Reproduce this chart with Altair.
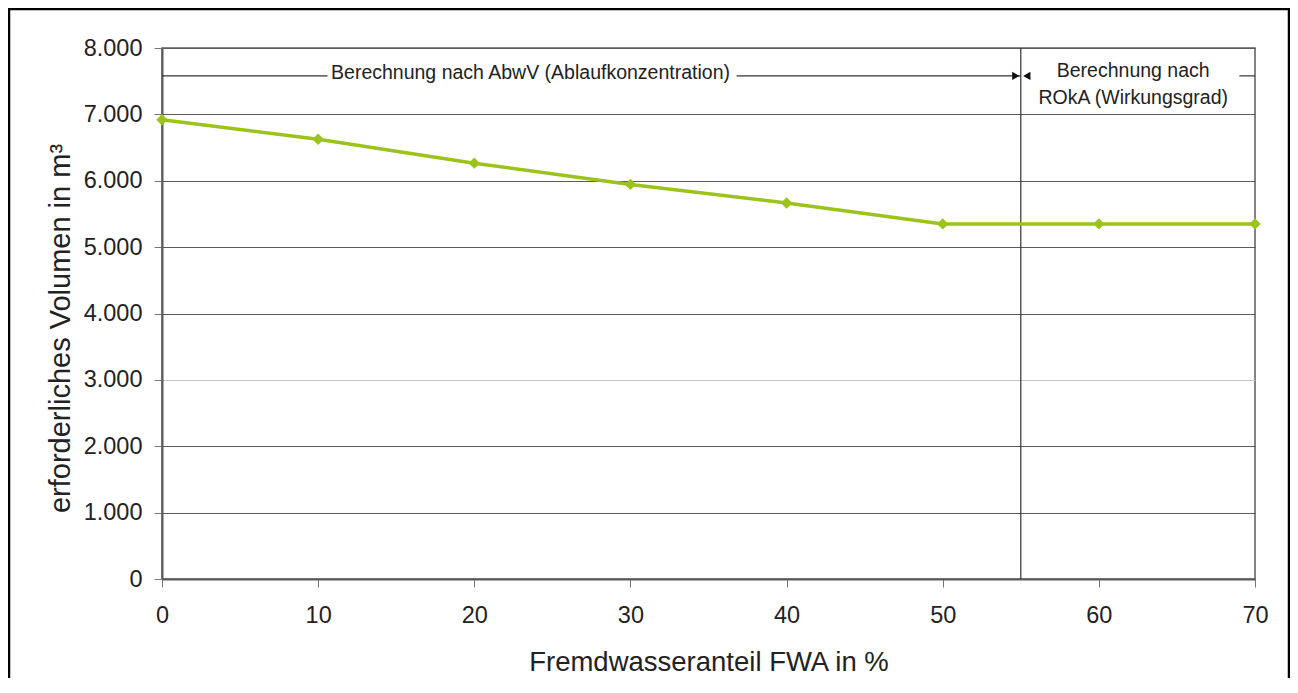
import altair as alt
import pandas as pd

# Data
fwa = [0, 10, 20, 30, 40, 50, 60, 70]
volumen = [6920, 6625, 6265, 5945, 5665, 5350, 5350, 5350]

y_ticks = [0, 1000, 2000, 3000, 4000, 5000, 6000, 7000, 8000]
x_ticks = [0, 10, 20, 30, 40, 50, 60, 70]

boundary_x = 55
arrow_y = 7580
left_text = "Berechnung nach AbwV (Ablaufkonzentration)"
left_text_x = 23.6
right_text = ["Berechnung nach", "ROkA (Wirkungsgrad)"]
right_text_x = 62.2
# annotation line segments (start, end) in x-units
segments_start = [0, 36.8, 69.0]
segments_end = [10.6, 55, 70]

FONT = "Liberation Sans"
GREEN = "#9ac31c"
GRID = "#5f5a5a"

df = pd.DataFrame({"fwa": fwa, "vol": volumen})
seg_df = pd.DataFrame({"x": segments_start, "x2": segments_end, "y": [arrow_y] * 3})
arrow_df = pd.DataFrame({"x": [boundary_x], "y": [arrow_y]})

xscale = alt.Scale(domain=[0, 70], nice=False)
yscale = alt.Scale(domain=[0, 8000], nice=False)

x_axis = alt.Axis(
    values=x_ticks, grid=False, title="Fremdwasseranteil FWA in %",
    labelFontSize=23.5, titleFontSize=27.5, labelFont=FONT, titleFont=FONT,
    labelColor="#222", titleColor="#222", titleFontWeight="normal",
    tickSize=8, tickColor="#777", domainColor=GRID, domainWidth=2,
    labelPadding=16, titlePadding=22, labelFlush=False,
)
y_axis = alt.Axis(
    values=y_ticks, title="erforderliches Volumen in m³",
    labelExpr="replace(format(datum.value, ','), ',', '.')",
    labelFontSize=23.5, titleFontSize=29, labelFont=FONT, titleFont=FONT,
    labelColor="#222", titleColor="#222", titleFontWeight="normal",
    tickSize=8, tickColor="#777", domainColor=GRID, domainWidth=2,
    labelPadding=12, titlePadding=8, titleY=280,
    gridColor={"condition": {"test": "datum.value === 3000", "value": "#c4c4c4"}, "value": GRID},
    gridWidth=1,
)

base = alt.Chart(df)

line = base.mark_line(color=GREEN, strokeWidth=3.5).encode(
    x=alt.X("fwa:Q", scale=xscale, axis=x_axis),
    y=alt.Y("vol:Q", scale=yscale, axis=y_axis),
)
points = base.mark_point(shape="diamond", filled=True, color=GREEN, size=130, opacity=1).encode(
    x=alt.X("fwa:Q", scale=xscale),
    y=alt.Y("vol:Q", scale=yscale),
)

vline = alt.Chart(pd.DataFrame({"x": [boundary_x]})).mark_rule(color="#333", strokeWidth=1.2).encode(
    x=alt.X("x:Q", scale=xscale)
)

segs = alt.Chart(seg_df).mark_rule(color="#333", strokeWidth=1.2).encode(
    x=alt.X("x:Q", scale=xscale), x2="x2:Q", y=alt.Y("y:Q", scale=yscale)
)

arrow_r = alt.Chart(arrow_df).mark_point(
    shape="triangle-right", filled=True, color="#111", size=70, opacity=1, xOffset=-5
).encode(x=alt.X("x:Q", scale=xscale), y=alt.Y("y:Q", scale=yscale))

arrow_l = alt.Chart(arrow_df).mark_point(
    shape="triangle-left", filled=True, color="#111", size=70, opacity=1, xOffset=6
).encode(x=alt.X("x:Q", scale=xscale), y=alt.Y("y:Q", scale=yscale))

ltext = alt.Chart(pd.DataFrame({"x": [left_text_x], "y": [arrow_y], "t": [left_text]})).mark_text(
    font=FONT, fontSize=19.5, color="#222", baseline="middle", align="center", dy=-3
).encode(x=alt.X("x:Q", scale=xscale), y=alt.Y("y:Q", scale=yscale), text="t:N")

rtext = alt.Chart(pd.DataFrame({"x": [right_text_x], "y": [arrow_y]})).mark_text(
    font=FONT, fontSize=19.5, color="#222", baseline="middle", align="center", dy=-5,
    lineHeight=27, text=right_text
).encode(x=alt.X("x:Q", scale=xscale), y=alt.Y("y:Q", scale=yscale))

frame = alt.Chart(pd.DataFrame({"a": [0]})).mark_rect(
    fill=None, stroke="#000", strokeWidth=2.5
).encode(
    x=alt.value(-153), x2=alt.value(1127), y=alt.value(-39), y2=alt.value(720)
)

chart = alt.layer(frame, vline, segs, arrow_r, arrow_l, ltext, rtext, line, points).properties(
    width=1093, height=531,
    autosize=alt.AutoSizeParams(type="none"),
    padding={"left": 154, "top": 40, "right": 35, "bottom": 99},
    background="white",
).configure_view(stroke=GRID, strokeWidth=1.5)

chart.save("out.html", embed_options={"renderer": "svg", "actions": False})
